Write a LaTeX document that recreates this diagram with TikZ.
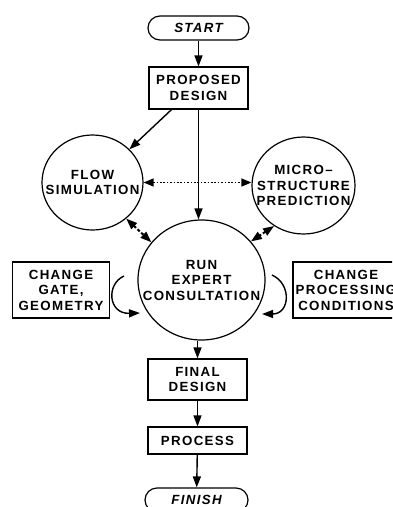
\documentclass[tikz,border=0pt]{standalone}
\usepackage{fontspec}
\newfontfamily\chartfont{Liberation Sans}[LetterSpace=10]
\usetikzlibrary{arrows.meta,shapes.geometric}

\tikzset{
  chart/.style={font=\chartfont\bfseries\fontsize{13.3}{15.5}\selectfont, align=center, inner sep=0pt},
  stepbox/.style={chart, draw, line width=1.2pt, rectangle},
  terminal/.style={chart, draw, line width=1.2pt, rectangle, rounded corners=12pt,
                   minimum width=101pt, minimum height=24pt, font=\chartfont\bfseries\itshape\fontsize{13.3}{15.5}\selectfont},
  bubble/.style={draw, line width=1.2pt, ellipse, inner sep=0pt},
  inside/.style={label={[chart]center:#1}},
  tip/.style={-{Triangle[length=11pt,width=8pt]}},
  flowarrow/.style={tip, line width=1.4pt},
  exchange/.style={{Triangle[length=11pt,width=8pt]}-{Triangle[length=11pt,width=8pt]}, line width=2pt, dash pattern=on 3pt off 2pt},
  datalink/.style={{Triangle[length=10pt,width=8pt]}-{Triangle[length=10pt,width=8pt]}, line width=1.4pt, dash pattern=on 1.6pt off 1.8pt},
}

\begin{document}
\begin{tikzpicture}[x=1pt,y=-1pt]
  \useasboundingbox (0,0) rectangle (392,507);
  \fill[white] (0,0) rectangle (392,507);
  \clip (0,0) rectangle (392,507);

  % main sequence
  \node[terminal] (start) at (198.5,28) {START};
  \node[stepbox, minimum width=99pt, minimum height=42pt] (proposed) at (198.5,88) {PROPOSED\\DESIGN};

  % simulation tools
  \node[bubble, minimum width=101pt, minimum height=95pt,
        inside={FLOW\\SIMULATION}] (flow) at (92.5,182.5) {};
  \node[bubble, minimum width=103pt, minimum height=97pt,
        inside={MICRO\textendash\\STRUCTURE\\PREDICTION}] (micro) at (303.5,185.5) {};

  % expert system
  \node[bubble, minimum width=127pt, minimum height=120pt,
        inside={RUN\\EXPERT\\CONSULTATION}] (run) at (201.5,280) {};

  % corrective actions
  \node[stepbox, minimum width=97pt, minimum height=56pt] (gate) at (61,290) {CHANGE\\GATE,\\GEOMETRY};
  \node[stepbox, minimum width=106pt, minimum height=56pt] (cond) at (346,290) {CHANGE\\PROCESSING\\CONDITIONS};

  % final steps
  \node[stepbox, minimum width=99pt, minimum height=41pt] (final) at (197.5,379.5) {FINAL\\DESIGN};
  \node[stepbox, minimum width=99pt, minimum height=27pt] (process) at (197.5,440.5) {PROCESS};
  \node[terminal, minimum width=103pt] (finish) at (196.5,500) {FINISH};

  % connectors
  \draw[flowarrow] (start) -- (proposed);
  \draw[flowarrow] ([xshift=-27pt]proposed.south) -- (flow.42);
  \draw[flowarrow] (proposed.south) -- (proposed.south |- run.north);
  \draw[datalink] (flow.east) -- (flow.east -| micro.west);
  \draw[exchange] (flow.-47) -- (run.143);
  \draw[exchange] (micro.-126) -- (run.38);
  \draw[flowarrow] (run.south -| final.north) -- (final.north);
  \draw[flowarrow] (final) -- (process);
  \draw[flowarrow] (process) -- (finish);

  % feedback loops beside the expert consultation
  \coordinate (gateloop) at (124,276);
  \coordinate (gateback) at (140,313);
  \coordinate (condloop) at (272,275);
  \coordinate (condback) at (262,314);
  \draw[flowarrow] (gateloop) .. controls (106,284) and (108,314) .. (gateback);
  \draw[flowarrow] (condloop) .. controls (292,284) and (290,314) .. (condback);
\end{tikzpicture}
\end{document}
